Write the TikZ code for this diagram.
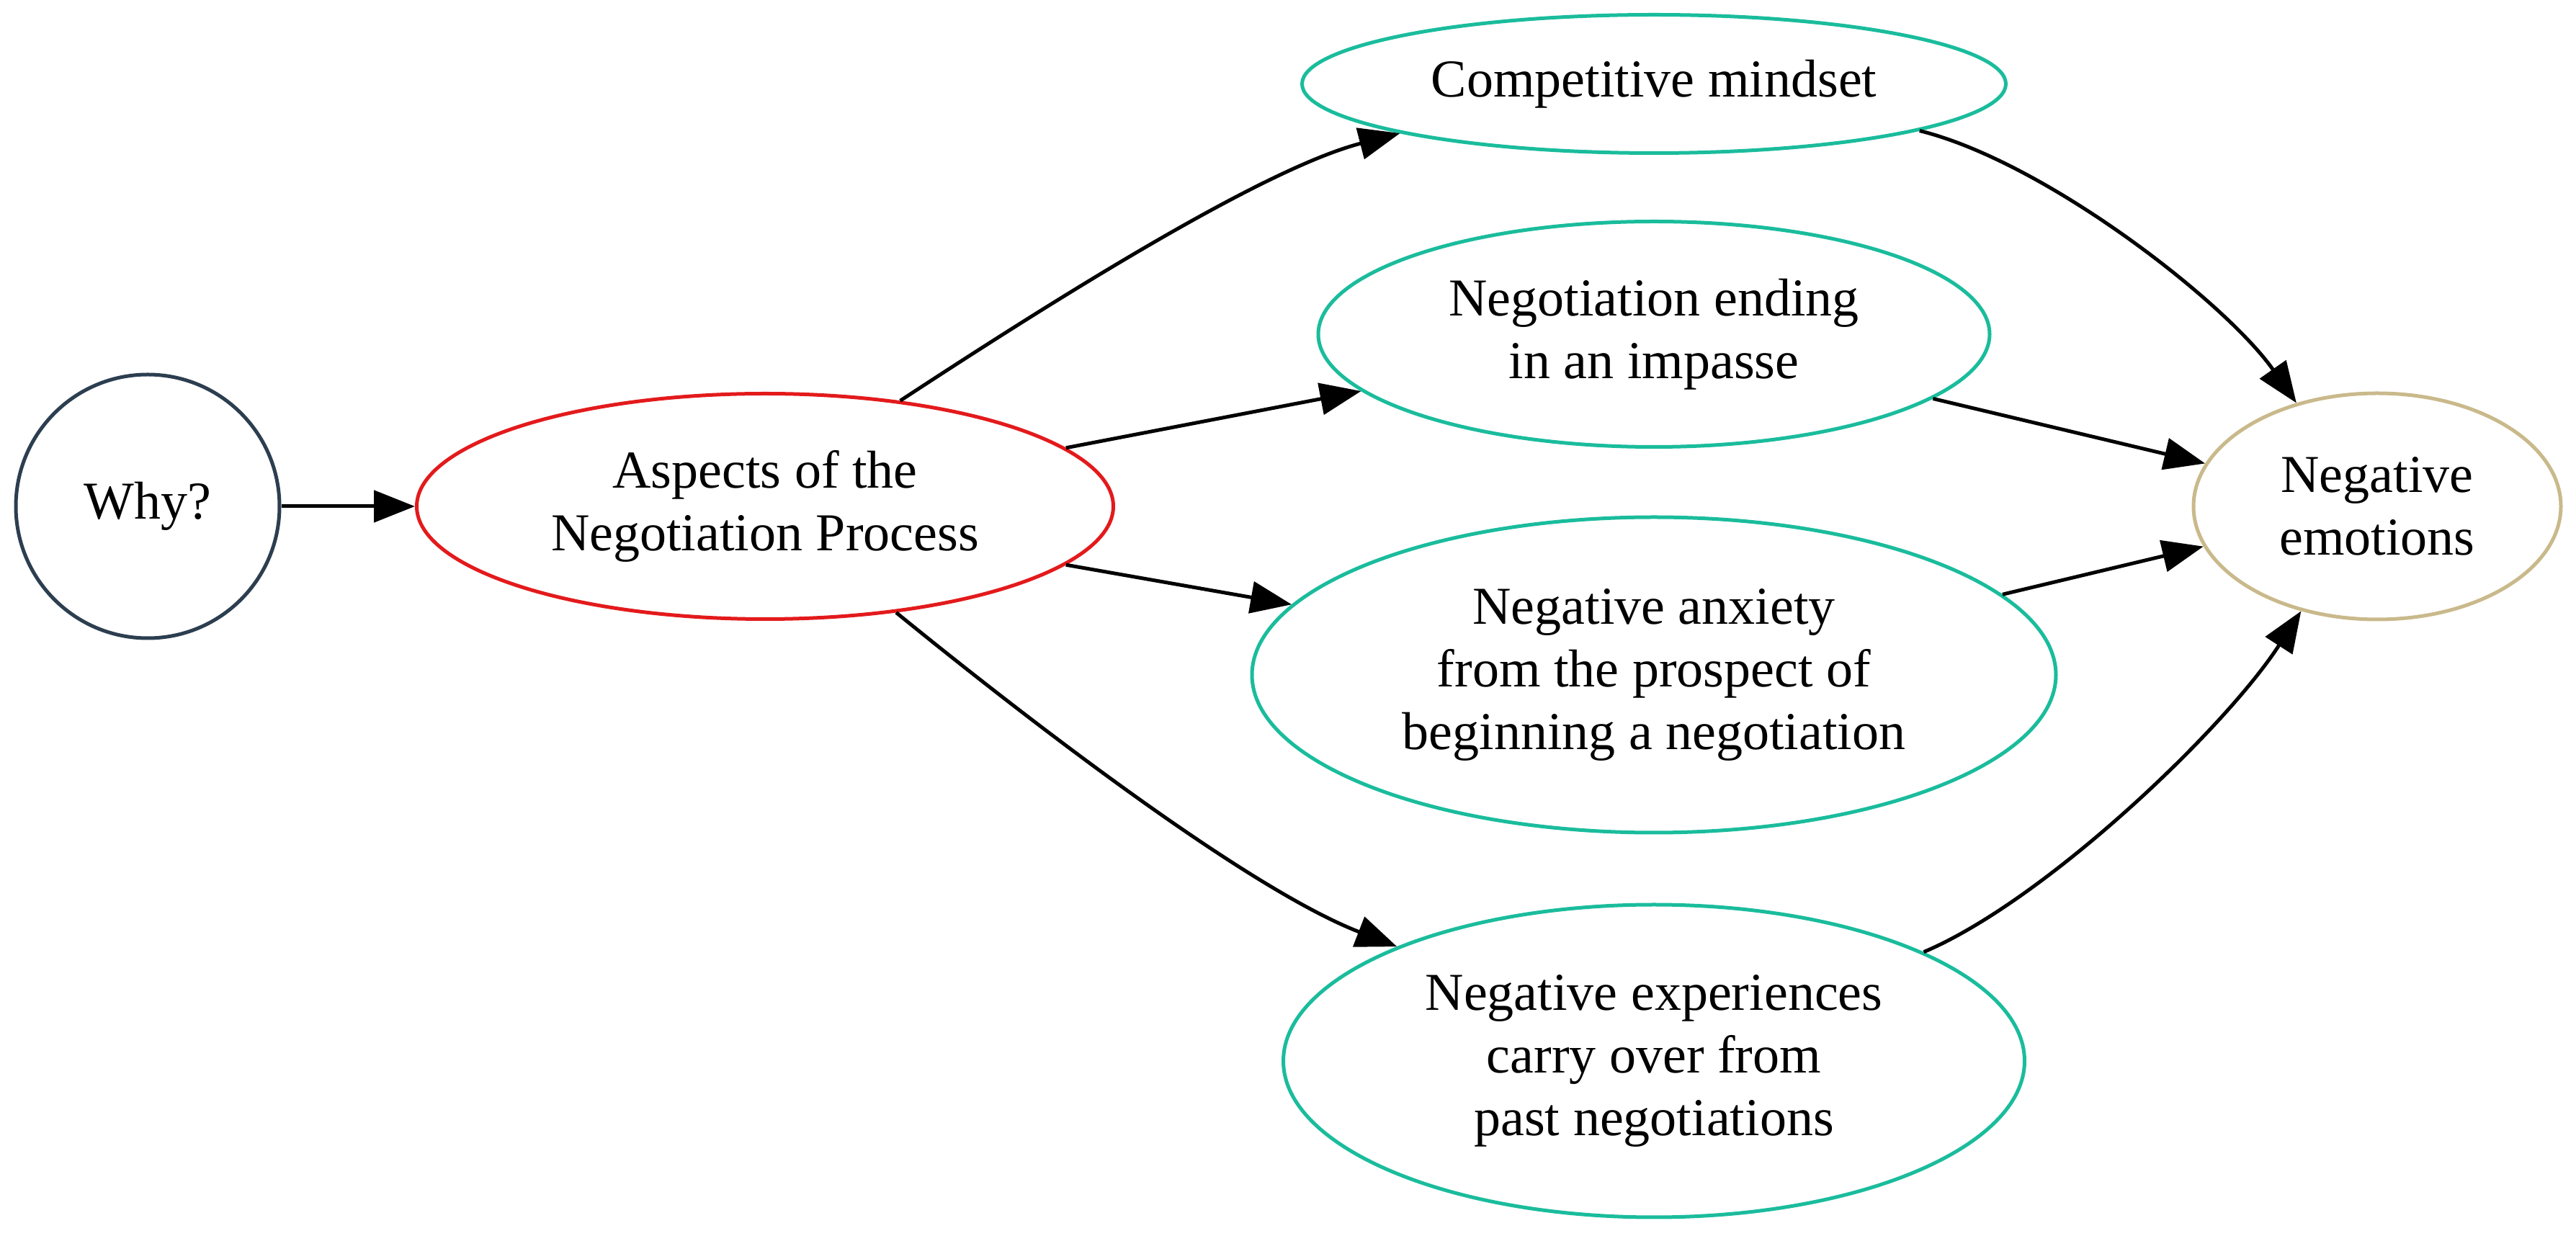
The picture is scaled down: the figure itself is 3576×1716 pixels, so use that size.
\documentclass[tikz,border=0pt]{standalone}
\usepackage{fontspec}
\setmainfont{Liberation Serif}
\usetikzlibrary{shapes.geometric,arrows.meta}
\definecolor{navy}{HTML}{2C3E50}
\definecolor{redc}{HTML}{E31A1C}
\definecolor{teal}{HTML}{1ABC9C}
\definecolor{tan}{HTML}{C9B98B}
\tikzset{
  base/.style={draw, line width=1pt, inner sep=0pt, align=center,
    font=\fontsize{14.8pt}{17.4pt}\selectfont},
  ell/.style={base, ellipse},
  conn/.style={line width=1pt, -{Triangle[length=11.4pt,width=8.8pt]}}
}
\begin{document}
\begin{tikzpicture}[x=0.2pt,y=-0.2pt]
\useasboundingbox (0,0) rectangle (3576,1716);
\node[base, circle, navy, text=black, minimum size=366*0.2pt] (why) at (205,703) {Why?};
\node[ell, redc, text=black, minimum width=967*0.2pt, minimum height=313*0.2pt] (asp) at (1062,703) {Aspects of the\\Negotiation Process};
\node[ell, teal, text=black, minimum width=977*0.2pt, minimum height=192*0.2pt] (comp) at (2296,116.5) {Competitive mindset};
\node[ell, teal, text=black, minimum width=932*0.2pt, minimum height=313*0.2pt] (end) at (2296,464) {Negotiation ending\\in an impasse};
\node[ell, teal, text=black, minimum width=1116*0.2pt, minimum height=438*0.2pt] (anx) at (2296,937) {Negative anxiety\\from the prospect of\\beginning a negotiation};
\node[ell, teal, text=black, minimum width=1029*0.2pt, minimum height=434*0.2pt] (exp) at (2296,1473) {Negative experiences\\carry over from\\past negotiations};
\node[ell, tan, text=black, minimum width=510*0.2pt, minimum height=314*0.2pt] (emo) at (3300,703) {Negative\\emotions};

\draw[conn] (why) -- (asp);
\draw[conn] (asp.38) .. controls (1450,425) and (1750,235) .. (comp.191);
\draw[conn] (asp.11) -- (end.191);
\draw[conn] (asp.-11) -- (anx.169);
\draw[conn] (asp.-39) .. controls (1440,1010) and (1735,1235) .. (exp.156);
\draw[conn] (comp.-10) .. controls (2840,225) and (3090,420) .. (emo.128);
\draw[conn] (end.-13) -- (emo.166);
\draw[conn] (anx.13) -- (emo.193);
\draw[conn] (exp.22) .. controls (2840,1250) and (3090,1010) .. (emo.234);
\end{tikzpicture}
\end{document}
